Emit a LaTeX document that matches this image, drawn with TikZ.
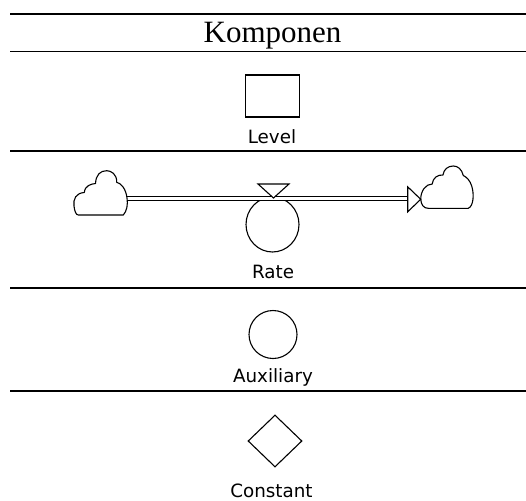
\documentclass[tikz,border=0pt]{standalone}
\usepackage{fontspec}
\setmainfont{Liberation Serif}
\newfontfamily\lblfont{DejaVu Sans}
\usetikzlibrary{shapes.geometric,calc}
\begin{document}
\begin{tikzpicture}[x=1pt,y=-1pt,
  thickrule/.style={line width=1.8pt},
  thinrule/.style={line width=0.8pt},
  lbl/.style={anchor=base,inner sep=0pt,font=\lblfont\fontsize{18.3}{22}\selectfont},
  sym/.style={draw,line width=1.1pt,inner sep=0pt,fill=white},
  cloudbox/.style={inner sep=0pt,outer sep=0pt},
  cloudline/.style={draw,line width=1.1pt,fill=white,line join=round},
  pipe/.style={draw,line width=1.1pt,double=white,double distance=3.6pt}]
\useasboundingbox (0,0) rectangle (526,500);
\fill[white] (0,0) rectangle (526,500);
% rules
\coordinate (r0l) at (10,13.7); \coordinate (r0r) at (526,13.7);
\coordinate (r1l) at (10,51.3); \coordinate (r1r) at (526,51.3);
\coordinate (r2l) at (10,151); \coordinate (r2r) at (526,151);
\coordinate (r3l) at (10,288); \coordinate (r3r) at (526,288);
\coordinate (r4l) at (10,391); \coordinate (r4r) at (526,391);
\draw[thickrule] (r0l) -- (r0r);
\draw[thinrule] (r1l) -- (r1r);
\draw[thickrule] (r2l) -- (r2r);
\draw[thickrule] (r3l) -- (r3r);
\draw[line width=1.4pt] (r4l) -- (r4r);
% title
\node[anchor=base,inner sep=0pt,font=\fontsize{31}{36}\selectfont] (title) at (272.5,43) {Komponen};
% level
\node[sym,rectangle,minimum width=54pt,minimum height=42pt] (level) at (272.5,96) {};
\node[lbl] (levellbl) at (272,143) {Level};
% rate
\coordinate (pipey) at (0,198.5);
\node[sym,ellipse,minimum width=53pt,minimum height=55pt] (rate) at (272.5,224.5) {};
\node[cloudbox,minimum width=54pt,minimum height=44pt] (lc) at (100,193) {};
\node[cloudbox,minimum width=52pt,minimum height=42.3pt] (rc) at (446.7,187.15) {};
\coordinate (tip) at ($(rc.west |- pipey)+(0,0.8)$);
\coordinate (ahw) at ($(tip)+(-13,0)$);
\path[pipe] (lc.center |- pipey) -- (ahw |- pipey);
% left cloud
\path[cloudline,shift={(lc.north west)}]
  (5.3,44) -- (50.3,44)
  .. controls (54,40) and (55,33) .. (54,27)
  .. controls (53,18) and (48,12) .. (43.7,11.3)
  .. controls (44,3) and (38,-0.3) .. (33.7,-0.3)
  .. controls (27,-0.3) and (23,4) .. (22.5,12.5)
  .. controls (18,13) and (12,14.5) .. (11.3,21.5)
  .. controls (3,22) and (0,28) .. (1,35)
  .. controls (1.5,40) and (3,44) .. (5.3,44) -- cycle;
% right cloud
\path[cloudline,shift={(rc.north west)}]
  (0,33.3) .. controls (0.5,39) and (3,42.3) .. (7.6,42.3) -- (47.6,42.3)
  .. controls (53,40) and (53.5,28) .. (51,20)
  .. controls (49.5,15) and (46,11) .. (42.6,9.5)
  .. controls (41,3) and (37,0) .. (32.6,0)
  .. controls (27,0) and (23,3.5) .. (22.3,9)
  .. controls (17,8.5) and (12,12) .. (11.5,18)
  .. controls (5,18) and (0,25) .. (0,33.3) -- cycle;
% arrowhead and valve
\draw[line width=1.1pt,fill=white,line join=miter] (ahw) ++(0,-12.5) -- (tip) -- ($(ahw)+(0,12.5)$) -- cycle;
\draw[line width=1.1pt,fill=white] (258,184) -- (289,184) -- (273.5,198) -- cycle;
\node[lbl] (ratelbl) at (273,278) {Rate};
% auxiliary
\node[sym,circle,minimum size=48pt] (aux) at (273,334.5) {};
\node[lbl] (auxlbl) at (273,382) {Auxiliary};
% constant
\node[sym,diamond,minimum width=54pt,minimum height=52pt] (const) at (275,441) {};
\node[lbl] (constlbl) at (271.5,497) {Constant};
\end{tikzpicture}
\end{document}
